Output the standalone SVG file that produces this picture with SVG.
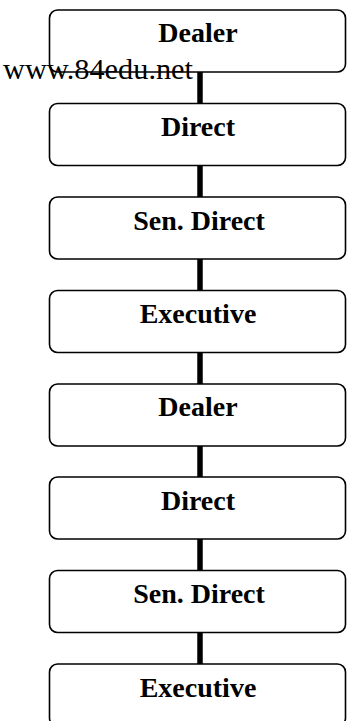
<svg xmlns="http://www.w3.org/2000/svg" width="348" height="721" viewBox="0 0 348 721">
  <style>
    .box { fill: #ffffff; stroke: #000000; stroke-width: 1.6; }
    .label { font-family: "Liberation Serif", "Times New Roman", serif; font-weight: bold; font-size: 28px; text-anchor: middle; fill: #000000; }
    .link { stroke: #000000; stroke-width: 5.5; fill: none; }
    .mark { font-family: "Liberation Serif", "Times New Roman", serif; font-size: 29px; fill: #000000; }
  </style>
  <rect width="348" height="721" fill="#ffffff"/>
  <g id="connectors">
    <line class="link" x1="200" y1="72" x2="200" y2="103"/>
    <line class="link" x1="200" y1="165" x2="200" y2="197"/>
    <line class="link" x1="200" y1="259" x2="200" y2="290"/>
    <line class="link" x1="200" y1="352" x2="200" y2="384"/>
    <line class="link" x1="200" y1="446" x2="200" y2="477"/>
    <line class="link" x1="200" y1="539" x2="200" y2="570"/>
    <line class="link" x1="200" y1="632" x2="200" y2="664"/>
  </g>
  <g id="node1">
    <rect class="box" x="49.5" y="10" width="296" height="62" rx="8"/>
    <text class="label" x="198" y="42">Dealer</text>
  </g>
  <g id="node2">
    <rect class="box" x="49.5" y="103.5" width="296" height="62" rx="8"/>
    <text class="label" x="198" y="136">Direct</text>
  </g>
  <g id="node3">
    <rect class="box" x="49.5" y="197" width="296" height="62" rx="8"/>
    <text class="label" x="199" y="230">Sen. Direct</text>
  </g>
  <g id="node4">
    <rect class="box" x="49.5" y="290.5" width="296" height="62" rx="8"/>
    <text class="label" x="198" y="323">Executive</text>
  </g>
  <g id="node5">
    <rect class="box" x="49.5" y="384" width="296" height="62" rx="8"/>
    <text class="label" x="198" y="416">Dealer</text>
  </g>
  <g id="node6">
    <rect class="box" x="49.5" y="477" width="296" height="62" rx="8"/>
    <text class="label" x="198" y="510">Direct</text>
  </g>
  <g id="node7">
    <rect class="box" x="49.5" y="570.5" width="296" height="62" rx="8"/>
    <text class="label" x="199" y="603">Sen. Direct</text>
  </g>
  <g id="node8">
    <rect class="box" x="49.5" y="664" width="296" height="62" rx="8"/>
    <text class="label" x="198" y="697">Executive</text>
  </g>
  <text class="mark" x="3" y="79" textLength="190" lengthAdjust="spacingAndGlyphs">www.84edu.net</text>
</svg>
